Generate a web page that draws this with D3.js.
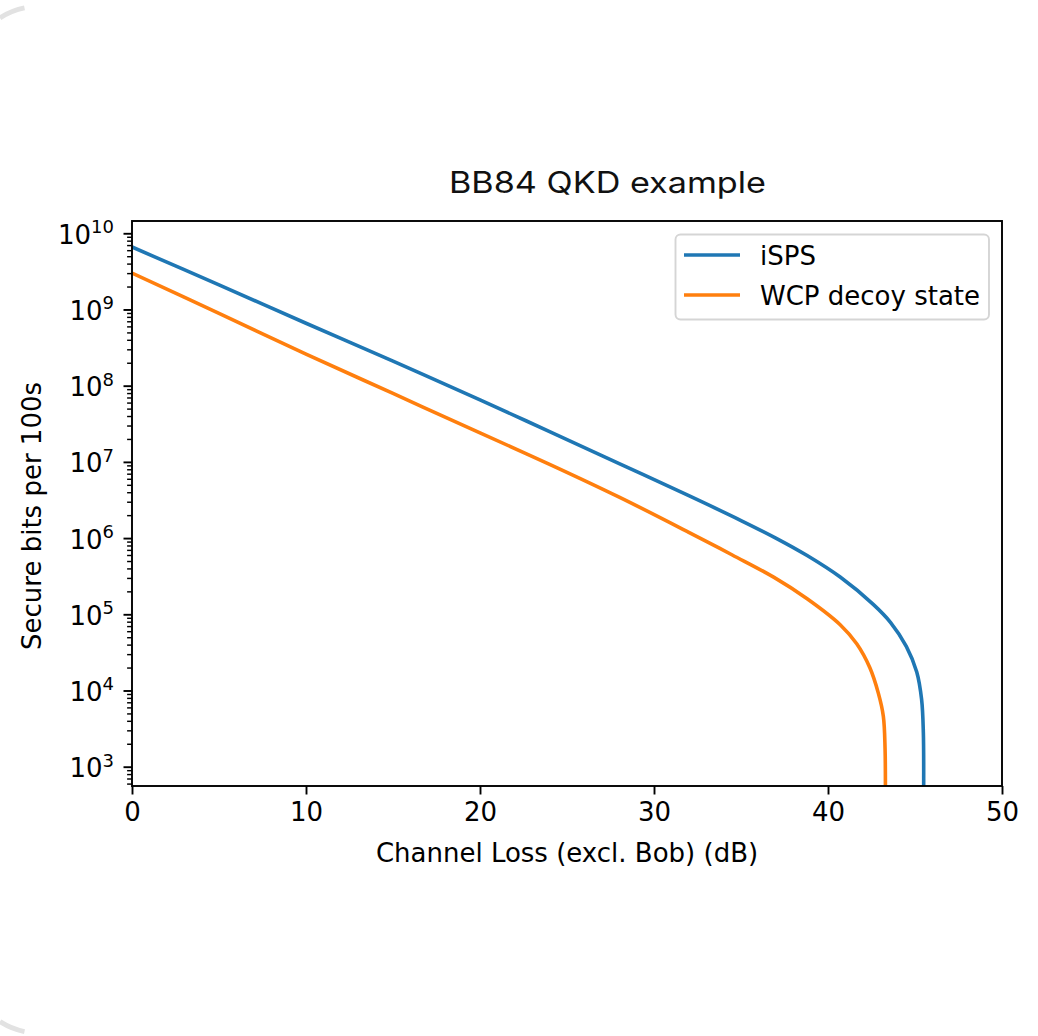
<!DOCTYPE html>
<html>
<head>
<meta charset="utf-8">
<script src="https://cdn.jsdelivr.net/npm/d3@7"></script>
<style>
  html, body { margin: 0; padding: 0; background: #ffffff; }
  svg { display: block; }
</style>
</head>
<body>
<svg id="chart" width="1038" height="1036"></svg>
<script>
// ---- data ----
const title = "BB84 QKD example";
const xLabel = "Channel Loss (excl. Bob) (dB)";
const yLabel = "Secure bits per 100s";
const seriesNames = ["iSPS", "WCP decoy state"];
const seriesColors = ["#1f77b4", "#ff7f0e"];

// iSPS: [loss dB, secure bits]
const ispsLoss = [0, 5, 10, 15, 20, 24, 28, 32, 35, 37, 38.8, 40.7, 42.6, 43.6, 44.5, 45.1, 45.38, 45.48, 45.5, 45.52];
const ispsBits = [6.6e9, 2.1e9, 6.6e8, 2.1e8, 6.5e7, 2.5e7, 9.5e6, 3.6e6, 1.7e6, 1.0e6, 5.9e5, 3.08e5, 1.35e5, 7.8e4, 3.8e4, 1.75e4, 7.6e3, 2.8e3, 3.0e2, 1];

// WCP decoy state
const wcpLoss = [0, 5, 10, 15, 20, 24, 28, 32, 34.5, 36.9, 38.8, 40.7, 41.65, 42.4, 42.9, 43.18, 43.28, 43.3, 43.32];
const wcpBits = [3.0e9, 8.9e8, 2.6e8, 7.9e7, 2.4e7, 9.3e6, 3.45e6, 1.19e6, 6.0e5, 3.05e5, 1.6e5, 7.3e4, 4.1e4, 2.0e4, 9.1e3, 4.6e3, 1.7e3, 2.0e2, 1];

const xTicks = [0, 10, 20, 30, 40, 50];
const yTickExps = [3, 4, 5, 6, 7, 8, 9, 10];

// ---- layout ----
const L = 132, R = 1002, T = 221, B = 786;
const svg = d3.select("#chart");
const FONT = "'DejaVu Sans', sans-serif";
const FS = 26;

// decorative card edge (left rounded border of the page card)
svg.append("path")
  .attr("d", (() => { const p = d3.path(); p.arc(38.6, 77.5, 71, Math.PI + Math.acos(38.6/71), 1.5*Math.PI - 0.2); return p.toString(); })())
  .attr("fill", "none").attr("stroke", "#e2e2e2").attr("stroke-width", 5);
svg.append("path")
  .attr("d", (() => { const p = d3.path(); p.arc(38.6, 962, 71, 0.5*Math.PI + 0.2, Math.PI - Math.acos(38.6/71)); return p.toString(); })())
  .attr("fill", "none").attr("stroke", "#e2e2e2").attr("stroke-width", 5);

const x = d3.scaleLinear().domain([0, 50]).range([L, R]);
const y = d3.scaleLog().domain([558, 1.449e10]).range([B, T]);

// clip
svg.append("defs").append("clipPath").attr("id", "clip")
  .append("rect").attr("x", L).attr("y", T).attr("width", R - L).attr("height", B - T);

// lines
const line = d3.line()
  .x(d => x(d[0]))
  .y(d => y(d[1]))
  .curve(d3.curveCatmullRom.alpha(0.5));

const seriesData = [
  d3.zip(ispsLoss, ispsBits),
  d3.zip(wcpLoss, wcpBits)
];

svg.append("g").attr("clip-path", "url(#clip)")
  .selectAll("path").data(seriesData).join("path")
  .attr("d", line)
  .attr("fill", "none")
  .attr("stroke", (d, i) => seriesColors[i])
  .attr("stroke-width", 3.6)
  .attr("stroke-linejoin", "round")
  .attr("stroke-linecap", "butt");

// x axis
const xAxis = svg.append("g").attr("transform", `translate(0,${B})`)
  .call(d3.axisBottom(x).tickValues(xTicks).tickSize(8.5).tickPadding(8).tickFormat(d3.format("d")));
xAxis.select(".domain").remove();
xAxis.selectAll(".tick line").attr("stroke", "#000").attr("stroke-width", 1.9);
xAxis.selectAll(".tick text").attr("font-family", FONT).attr("font-size", FS).attr("fill", "#000");

// y axis: major and minor ticks
const yMajor = yTickExps.map(e => Math.pow(10, e));
const yMinor = [];
for (let e = 2; e <= 10; e++) {
  for (let m = 2; m <= 9; m++) {
    const v = m * Math.pow(10, e);
    if (v >= y.domain()[0] && v <= y.domain()[1]) yMinor.push(v);
  }
}
const yAxisG = svg.append("g").attr("transform", `translate(${L},0)`);
yAxisG.append("g")
  .call(d3.axisLeft(y).tickValues(yMinor).tickSize(4.9).tickFormat(""))
  .call(g => g.select(".domain").remove())
  .call(g => g.selectAll(".tick line").attr("stroke", "#000").attr("stroke-width", 1.45));
yAxisG.append("g")
  .call(d3.axisLeft(y).tickValues(yMajor).tickSize(8.5).tickFormat(""))
  .call(g => g.select(".domain").remove())
  .call(g => g.selectAll(".tick line").attr("stroke", "#000").attr("stroke-width", 1.9));

// y tick labels with superscripts
const yl = svg.append("g");
yTickExps.forEach(e => {
  const t = yl.append("text")
    .attr("x", 114)
    .attr("y", y(Math.pow(10, e)) + 10.5)
    .attr("text-anchor", "end")
    .attr("font-family", FONT)
    .attr("font-size", FS)
    .attr("fill", "#000");
  t.append("tspan").text("10");
  t.append("tspan").attr("dy", -10.5).attr("font-size", 18).text(String(e));
});

// spines
svg.append("rect")
  .attr("x", L).attr("y", T).attr("width", R - L).attr("height", B - T)
  .attr("fill", "none").attr("stroke", "#000").attr("stroke-width", 1.9);

// axis labels
svg.append("text")
  .attr("x", 567).attr("y", 862)
  .attr("text-anchor", "middle")
  .attr("font-family", FONT).attr("font-size", FS).attr("fill", "#000")
  .text(xLabel);

svg.append("text")
  .attr("transform", "translate(41,516) rotate(-90)")
  .attr("text-anchor", "middle")
  .attr("font-family", FONT).attr("font-size", FS).attr("fill", "#000")
  .text(yLabel);

// title
svg.append("text")
  .attr("x", 449).attr("y", 193)
  .attr("font-family", "Inter, 'Open Sans', sans-serif")
  .attr("font-size", 29.5)
  .attr("fill", "#111")
  .attr("textLength", 317)
  .attr("lengthAdjust", "spacingAndGlyphs")
  .text(title);

// legend
const lg = svg.append("g");
lg.append("rect")
  .attr("x", 675.5).attr("y", 234.5).attr("width", 313.5).attr("height", 85)
  .attr("rx", 5).attr("ry", 5)
  .attr("fill", "#fff").attr("fill-opacity", 0.8)
  .attr("stroke", "#d5d5d5").attr("stroke-width", 1.9);
const legY = [255, 295];
seriesNames.forEach((name, i) => {
  lg.append("line")
    .attr("x1", 684).attr("x2", 740)
    .attr("y1", legY[i]).attr("y2", legY[i])
    .attr("stroke", seriesColors[i]).attr("stroke-width", 3.6);
  lg.append("text")
    .attr("x", 760).attr("y", legY[i] + 10)
    .attr("font-family", FONT).attr("font-size", FS).attr("fill", "#000")
    .text(name);
});
</script>
</body>
</html>
